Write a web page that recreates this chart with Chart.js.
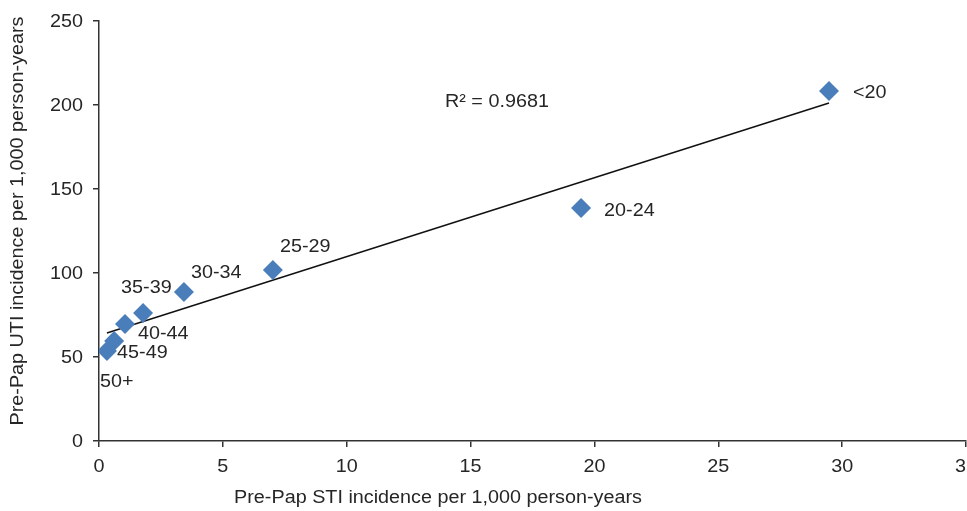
<!DOCTYPE html>
<html>
<head>
<meta charset="utf-8">
<script src="https://cdn.jsdelivr.net/npm/chart.js@4.4.1/dist/chart.umd.min.js"></script>
<style>
    html, body { margin: 0; padding: 0; background: #fff; overflow: hidden; }
    #wrap { width: 990px; height: 511px; }
</style>
</head>
<body>
<div id="wrap"><canvas id="chart" width="990" height="511"></canvas></div>
<script>
// age groups and their incidence values (per 1,000 person-years)
const ageGroups = ['<20', '20-24', '25-29', '30-34', '35-39', '40-44', '45-49', '50+'];
const stiRates = [29.47, 19.46, 7.02, 3.43, 1.78, 1.05, 0.61, 0.32];
const utiRates = [208.3, 138.7, 101.8, 88.7, 76.2, 69.6, 59.5, 53.6];

// linear trendline end points as drawn
const trendX = [0.32, 29.47];
const trendY = [64.3, 201.2];
const rSquaredText = 'R\u00b2 = 0.9681';

const xTicks = [0, 5, 10, 15, 20, 25, 30, 35];
const yTicks = [0, 50, 100, 150, 200, 250];

// where each point label sits relative to its marker (px)
const labelOffsets = [
    [24, 2], [23, 3], [7, -23], [7, -19], [-22, -25], [13, 10], [3, 12], [-7, 31]
];

const fontFamily = '"Liberation Sans", Arial, sans-serif';
const fontSize = 17.5;
const stretch = 1.13;   // text in the source is drawn a bit wide
const textColor = '#262626';
const axisColor = '#333333';

function wideText(ctx, text, x, y, align) {
    ctx.save();
    ctx.translate(x, y);
    ctx.scale(stretch, 1);
    ctx.textAlign = align;
    ctx.fillText(text, 0, 0);
    ctx.restore();
}

const textLayer = {
    id: 'textLayer',
    afterDraw(chart) {
        const ctx = chart.ctx;
        const xs = chart.scales.x, ys = chart.scales.y;
        const meta = chart.getDatasetMeta(0);
        ctx.save();
        ctx.font = fontSize + 'px ' + fontFamily;
        ctx.fillStyle = textColor;
        ctx.textBaseline = 'middle';

        // tick labels
        xTicks.forEach(function(v) {
            wideText(ctx, String(v), xs.getPixelForValue(v), 467, 'center');
        });
        yTicks.forEach(function(v) {
            wideText(ctx, String(v), 83, ys.getPixelForValue(v) + 1, 'right');
        });

        // point labels
        meta.data.forEach(function(pt, i) {
            const off = labelOffsets[i];
            wideText(ctx, ageGroups[i], pt.x + off[0], pt.y + off[1], 'left');
        });

        // R squared annotation
        wideText(ctx, rSquaredText, 445, ys.getPixelForValue(202) + 1, 'left');

        // axis titles
        wideText(ctx, 'Pre-Pap STI incidence per 1,000 person-years', 438, 498, 'center');
        ctx.translate(18, 221);
        ctx.rotate(-Math.PI / 2);
        wideText(ctx, 'Pre-Pap UTI incidence per 1,000 person-years', 0, 0, 'center');
        ctx.restore();
    }
};

const points = stiRates.map(function(x, i) { return { x: x, y: utiRates[i] }; });
const trend = trendX.map(function(x, i) { return { x: x, y: trendY[i] }; });

new Chart(document.getElementById('chart'), {
    type: 'scatter',
    data: {
        datasets: [{
            label: 'Age group',
            data: points,
            pointStyle: 'rectRot',
            pointRadius: 10,
            pointBackgroundColor: '#4a7ebb',
            pointBorderColor: '#4a7ebb',
            pointBorderWidth: 0,
            order: 1
        }, {
            label: 'Linear trend',
            data: trend,
            showLine: true,
            borderColor: '#111',
            borderWidth: 1.5,
            pointRadius: 0,
            order: 2
        }]
    },
    options: {
        responsive: false,
        animation: false,
        layout: { padding: { top: 21, right: 24, left: 0, bottom: 0 } },
        plugins: {
            legend: { display: false },
            tooltip: { enabled: false }
        },
        scales: {
            x: {
                type: 'linear',
                min: 0,
                max: 35,
                afterBuildTicks: function(scale) {
                    scale.ticks = xTicks.map(function(v) { return { value: v }; });
                },
                afterFit: function(scale) { scale.height = 70; },
                ticks: { display: false },
                grid: {
                    drawOnChartArea: false,
                    drawTicks: true,
                    tickLength: 6,
                    color: axisColor,
                    lineWidth: 1.5
                },
                border: { display: true, color: axisColor, width: 1.5 }
            },
            y: {
                type: 'linear',
                min: 0,
                max: 250,
                afterBuildTicks: function(scale) {
                    scale.ticks = yTicks.map(function(v) { return { value: v }; });
                },
                afterFit: function(scale) { scale.width = 99; },
                ticks: { display: false },
                grid: {
                    drawOnChartArea: false,
                    drawTicks: true,
                    tickLength: 6,
                    color: axisColor,
                    lineWidth: 1.5
                },
                border: { display: true, color: axisColor, width: 1.5 }
            }
        }
    },
    plugins: [textLayer]
});
</script>
</body>
</html>
